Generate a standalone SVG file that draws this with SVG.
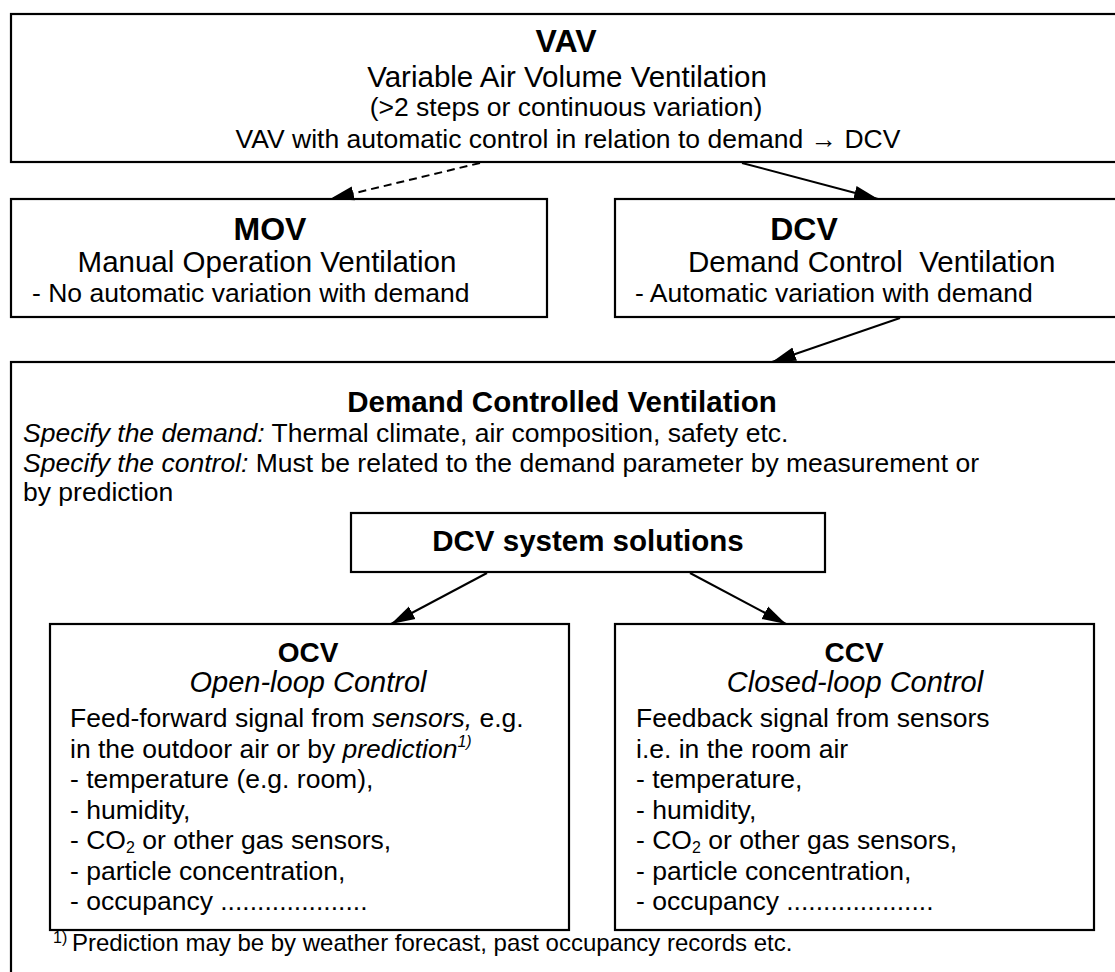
<svg xmlns="http://www.w3.org/2000/svg" width="1115" height="972" viewBox="0 0 1115 972">
<style>
.box{fill:#fff;stroke:#000;stroke-width:2.2}
text{font-family:"Liberation Sans",Arial,sans-serif;fill:#000}
.t1{font-size:32px;font-weight:bold;text-anchor:middle}
.t2{font-size:28px;font-weight:bold;text-anchor:middle}
.t3{font-size:29.5px;font-weight:bold;text-anchor:middle}
.sub{font-size:29.5px;text-anchor:middle}
.subi{font-size:29px;font-style:italic;text-anchor:middle}
.b{font-size:26.5px}
.c{text-anchor:middle}
.fn{font-size:24px}
.i{font-style:italic}
.s2{font-size:16px}
.con{stroke:#000;stroke-width:2;fill:none}
.dash{stroke-dasharray:8 5}
</style>
<defs>
<marker id="ah" markerUnits="userSpaceOnUse" markerWidth="26" markerHeight="16" refX="24" refY="7" orient="auto" viewBox="0 0 26 14">
<path d="M0,0 L24,7 L0,14 z" fill="#000"/>
</marker>
</defs>
<rect width="1115" height="972" fill="#fff"/>
<g id="vav">
<rect class="box" x="11" y="14" width="1120" height="148"/>
<text class="t1" x="566" y="52">VAV</text>
<text class="sub" x="567" y="87">Variable Air Volume Ventilation</text>
<text class="b c" x="566" y="116">(&gt;2 steps or continuous variation)</text>
<text class="b c" x="568" y="148">VAV with automatic control in relation to demand → DCV</text>
</g>
<g id="mov">
<rect class="box" x="11" y="199" width="536" height="118"/>
<text class="t1" x="270" y="240">MOV</text>
<text class="sub" x="267" y="272">Manual Operation Ventilation</text>
<text class="b" x="32" y="302">- No automatic variation with demand</text>
</g>
<g id="dcv">
<rect class="box" x="615" y="199" width="520" height="118"/>
<text class="t1" x="804" y="240">DCV</text>
<text class="sub" x="688" y="272" style="text-anchor:start;white-space:pre" xml:space="preserve">Demand Control  Ventilation</text>
<text class="b" x="635" y="302">- Automatic variation with demand</text>
</g>
<g id="dcv-main">
<rect class="box" x="11" y="362" width="1120" height="700"/>
<text class="t3" x="562" y="412">Demand Controlled Ventilation</text>
<text class="b" x="23" y="442"><tspan class="i">Specify the demand:</tspan> Thermal climate, air composition, safety etc.</text>
<text class="b" x="23" y="472"><tspan class="i">Specify the control:</tspan> Must be related to the demand parameter by measurement or</text>
<text class="b" x="23" y="501">by prediction</text>
<text class="fn" x="72" y="951">Prediction may be by weather forecast, past occupancy records etc.</text>
<text class="s2" x="53" y="943">1)</text>
</g>
<g id="solutions">
<rect class="box" x="351" y="513" width="474" height="59"/>
<text class="t3" x="588" y="551">DCV system solutions</text>
</g>
<g id="ocv">
<rect class="box" x="50" y="624" width="519" height="306"/>
<text class="t2" x="308" y="662">OCV</text>
<text class="subi" x="308" y="692">Open-loop Control</text>
<text class="b" x="70" y="727">Feed-forward signal from <tspan class="i">sensors,</tspan> e.g.</text>
<text class="b" x="70" y="757.5">in the outdoor air or by <tspan class="i">prediction</tspan><tspan class="i s2" dy="-11">1)</tspan></text>
<text class="b" x="70" y="788">- temperature (e.g. room),</text>
<text class="b" x="70" y="818.5">- humidity,</text>
<text class="b" x="70" y="849">- CO<tspan class="s2" dy="4">2</tspan><tspan dy="-4"> or other gas sensors,</tspan></text>
<text class="b" x="70" y="879.5">- particle concentration,</text>
<text class="b" x="70" y="910">- occupancy ....................</text>
</g>
<g id="ccv">
<rect class="box" x="615" y="624" width="479" height="306"/>
<text class="t2" x="854" y="662">CCV</text>
<text class="subi" x="855" y="692">Closed-loop Control</text>
<text class="b" x="636" y="727">Feedback signal from sensors</text>
<text class="b" x="636" y="757.5">i.e. in the room air</text>
<text class="b" x="636" y="788">- temperature,</text>
<text class="b" x="636" y="818.5">- humidity,</text>
<text class="b" x="636" y="849">- CO<tspan class="s2" dy="4">2</tspan><tspan dy="-4"> or other gas sensors,</tspan></text>
<text class="b" x="636" y="879.5">- particle concentration,</text>
<text class="b" x="636" y="910">- occupancy ....................</text>
</g>
<g id="connectors">
<line class="con dash" x1="480" y1="163" x2="330" y2="199" marker-end="url(#ah)"/>
<line class="con" x1="742" y1="163" x2="878" y2="199" marker-end="url(#ah)"/>
<line class="con" x1="900" y1="318" x2="772" y2="362" marker-end="url(#ah)"/>
<line class="con" x1="487" y1="573" x2="391" y2="624" marker-end="url(#ah)"/>
<line class="con" x1="690" y1="573" x2="786" y2="624" marker-end="url(#ah)"/>
</g>
</svg>
